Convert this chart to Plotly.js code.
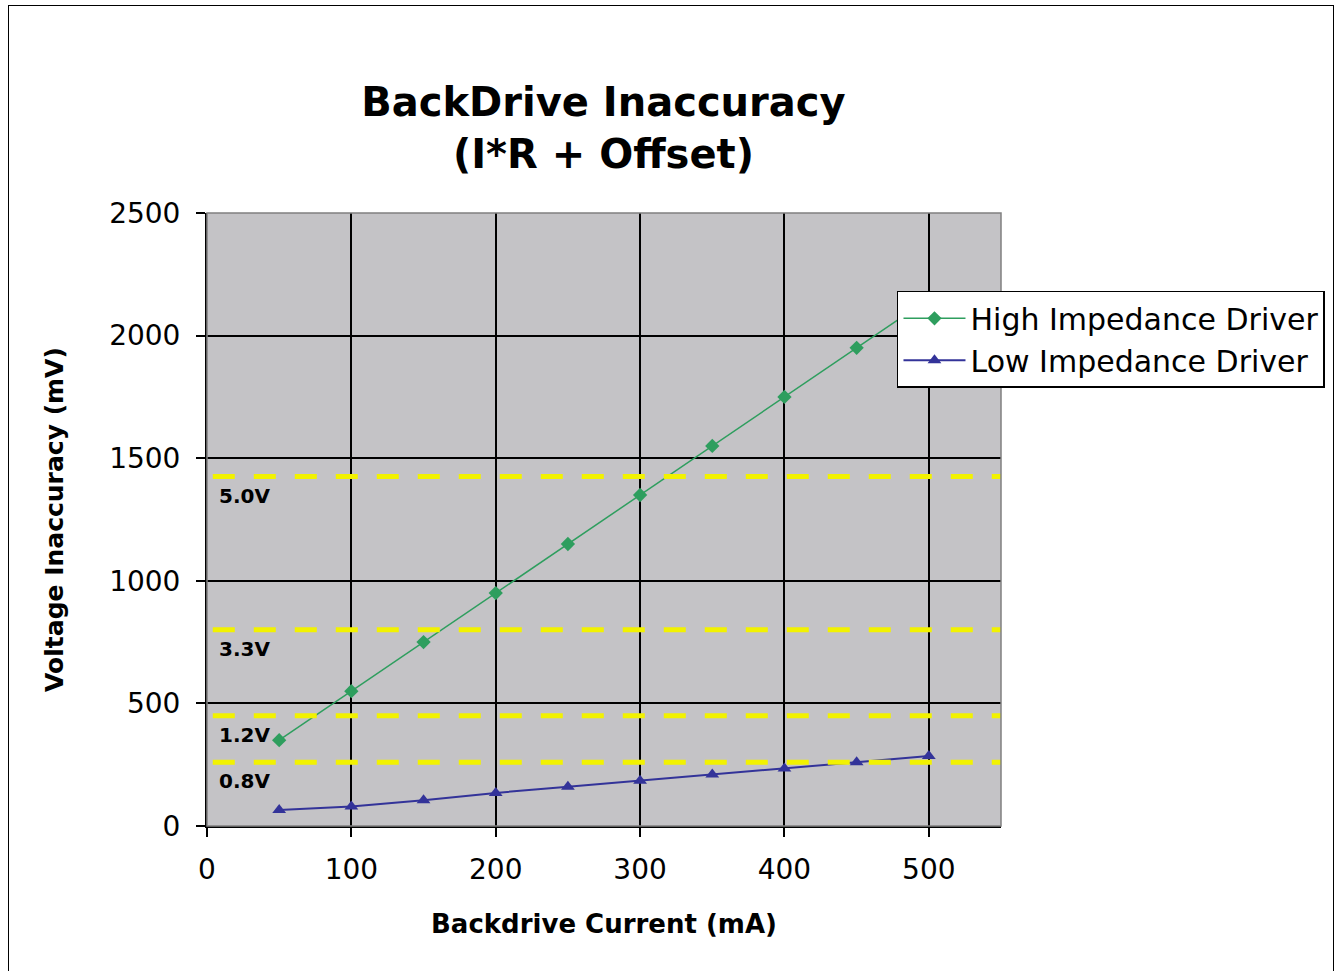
<!DOCTYPE html>
<html><head><meta charset="utf-8">
<script src="https://cdn.plot.ly/plotly-3.0.1.min.js"></script>
<style>
html,body{margin:0;padding:0;background:#fff;}
#wrap{position:relative;width:1338px;height:971px;overflow:hidden;}
#frame{position:absolute;left:8px;top:5px;width:1324px;height:980px;border:1px solid #000;pointer-events:none;}
#chart{position:absolute;left:0;top:0;width:1338px;height:971px;}
</style></head>
<body><div id="wrap"><div id="chart"></div><div id="frame"></div></div>
<script>
const current = [50, 100, 150, 200, 250, 300, 350, 400, 450, 500];
const highImpedance = [350, 550, 750, 950, 1150, 1350, 1550, 1750, 1950, 2150];
const lowImpedance = [65, 80, 105, 135, 160, 185, 210, 235, 260, 285];
const railLabels = ["5.0V", "3.3V", "1.2V", "0.8V"];
const railValues = [1425, 800, 450, 260];
const xTicks = [0, 100, 200, 300, 400, 500];
const yTicks = [0, 500, 1000, 1500, 2000, 2500];

const FONT = "DejaVu Sans, Verdana, sans-serif";

const traces = [
  {x: current, y: highImpedance, name: "High Impedance Driver", type: "scatter", mode: "lines+markers",
   line: {color: "#2e9e5e", width: 1.5}, marker: {symbol: "diamond", size: 11, color: "#2e9e5e"}},
  {x: current, y: lowImpedance, name: "Low Impedance Driver", type: "scatter", mode: "lines+markers",
   line: {color: "#333399", width: 2}, marker: {symbol: "triangle-up", size: 12, color: "#333399"}}
];

const shapes = railValues.map(v => ({type: "line", xref: "x", yref: "y", x0: 4, x1: 550, y0: v, y1: v,
  line: {color: "#f2f200", width: 5, dash: "22px,19px"}, layer: "above"}));

const annotations = railValues.map((v, i) => ({xref: "x", yref: "y", x: 7, y: v, text: "<b>" + railLabels[i] + "</b>",
  showarrow: false, xanchor: "left", yanchor: "top", yshift: -5, font: {family: FONT, size: 20, color: "#000"}}));

const layout = {
  width: 1338, height: 971,
  margin: {l: 207, r: 337, t: 213, b: 145},
  paper_bgcolor: "#fff", plot_bgcolor: "#c4c3c6",
  font: {family: FONT, color: "#000"},
  title: {text: "<b>BackDrive Inaccuracy<br>(I*R + Offset)</b>", x: 0.451, xanchor: "center", y: 0.881, yanchor: "top",
          font: {family: FONT, size: 40, color: "#000"}},
  xaxis: {range: [0, 550], tickvals: xTicks, ticks: "outside", ticklen: 9, tickwidth: 2, tickcolor: "#000",
          showgrid: true, gridcolor: "#000", gridwidth: 2, zeroline: false,
          showline: true, linecolor: "#000", linewidth: 2, mirror: false, ticklabelstandoff: 8,
          tickfont: {family: FONT, size: 28, color: "#000"},
          title: {text: "<b>Backdrive Current (mA)</b>", font: {family: FONT, size: 26, color: "#000"}, standoff: 30}},
  yaxis: {range: [0, 2500], tickvals: yTicks, ticks: "outside", ticklen: 9, tickwidth: 2, tickcolor: "#000",
          showgrid: true, gridcolor: "#000", gridwidth: 2, zeroline: false,
          showline: true, linecolor: "#000", linewidth: 2, ticklabelstandoff: 10,
          tickfont: {family: FONT, size: 28, color: "#000"},
          title: {text: "<b>Voltage Inaccuracy (mV)</b>", font: {family: FONT, size: 25, color: "#000"}, standoff: 38}},
  legend: {x: 0.869, xanchor: "left", xref: "paper", y: 0.873, yanchor: "top", bgcolor: "#fff",
           bordercolor: "#000", borderwidth: 1.5, font: {family: FONT, size: 30, color: "#000"},
           tracegroupgap: 0, itemwidth: 62},
  shapes: shapes,
  annotations: annotations,
  showlegend: true
};
layout.shapes.push({type: "rect", xref: "paper", yref: "paper", x0: 0, x1: 1, y0: 0, y1: 1,
  line: {color: "#808080", width: 1.5}, layer: "above"});

Plotly.newPlot("chart", traces, layout, {displayModeBar: false, staticPlot: true});
</script></body></html>
